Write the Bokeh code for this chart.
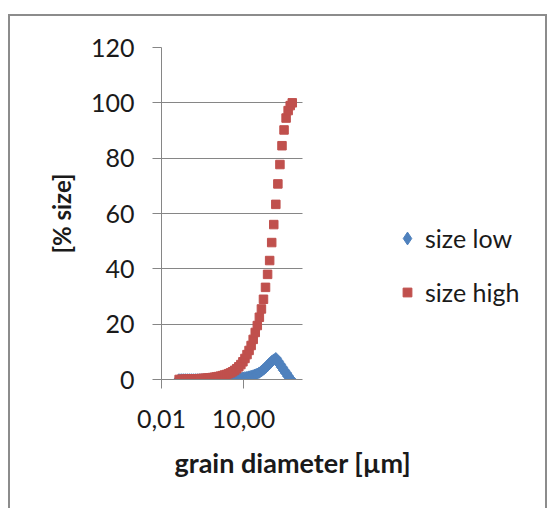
import math

from bokeh.plotting import figure
from bokeh.models import (Range1d, FixedTicker, CustomJSTickFormatter, Legend, LegendItem, Title)
from bokeh.embed import file_html
from bokeh.resources import INLINE

# Grain size classes [µm] (quarter-phi steps)
diameter_um = [
    0.0442, 0.0526, 0.0625, 0.0743, 0.0884, 0.1051, 0.125, 0.1487, 0.1768, 0.2102,
    0.25, 0.2973, 0.3536, 0.4204, 0.5, 0.5946, 0.7071, 0.8409, 1.0, 1.189,
    1.414, 1.682, 2.0, 2.378, 2.828, 3.364, 4.0, 4.757, 5.657, 6.727,
    8.0, 9.514, 11.31, 13.45, 16.0, 19.03, 22.63, 26.91, 32.0, 38.05,
    45.25, 53.82, 64.0, 76.11, 90.51, 107.6, 128.0, 152.2, 181.0, 215.3,
    256.0, 304.4, 362.0, 430.5, 512.0, 608.9,
]

# Cumulative [% size] for the "size high" sample
size_high = [
    0.02, 0.04, 0.06, 0.08, 0.10, 0.13, 0.16, 0.19, 0.22, 0.26,
    0.30, 0.35, 0.40, 0.45, 0.50, 0.60, 0.70, 0.80, 0.90, 1.05,
    1.20, 1.40, 1.60, 1.80, 2.10, 2.40, 2.80, 3.30, 3.90, 4.60,
    5.40, 6.40, 7.60, 9.00, 10.5, 12.3, 14.5, 17.0, 19.5, 22.5,
    25.5, 29.0, 33.3, 38.0, 43.0, 49.5, 56.0, 63.3, 70.7, 77.7,
    84.5, 90.2, 94.5, 97.2, 99.0, 100.0,
]

# Class frequency [% size] for the "size low" sample
size_low = [
    0.05, 0.05, 0.05, 0.05, 0.05, 0.05, 0.05, 0.05, 0.05, 0.05,
    0.05, 0.05, 0.05, 0.05, 0.05, 0.05, 0.05, 0.05, 0.10, 0.10,
    0.15, 0.15, 0.20, 0.20, 0.25, 0.30, 0.30, 0.35, 0.40, 0.50,
    0.60, 0.70, 0.80, 0.90, 1.10, 1.30, 1.50, 1.80, 2.10, 2.50,
    3.00, 3.60, 4.30, 5.00, 5.80, 6.60, 7.20, 7.70, 6.60, 5.50,
    4.40, 3.30, 2.30, 1.20, 0.20,
]

x_ticks = [0.01, 10.0]
y_ticks = [0, 20, 40, 60, 80, 100, 120]
x_axis_span = (0.01, 1450.0)      # extent of the drawn x axis and grid lines

BLUE = "#4F81BD"
RED = "#C0504D"
AXIS_GREY = "#868686"
FRAME_GREY = "#8c8c8c"
FONT = "Lato"
TEXT = "#1a1a1a"

# the frame reaches far right so the legend can sit inside it; the axis and
# grid lines are bounded to x_axis_span
p = figure(
    width=549, height=508,
    x_axis_type="log",
    x_range=Range1d(0.01, 8.0e11), y_range=Range1d(0, 120),
    output_backend="svg", toolbar_location=None,
    min_border_left=161, min_border_right=8,
    min_border_top=47, min_border_bottom=129,
)
p.outline_line_color = None
p.background_fill_color = None
p.border_fill_color = None

# chart area: white sheet with a thin grey border on left, top and right
p.styles = {
    "background": (
        f"linear-gradient({FRAME_GREY},{FRAME_GREY}) 8px 14px / 2px 494px no-repeat, "
        f"linear-gradient({FRAME_GREY},{FRAME_GREY}) 8px 14px / 539px 2px no-repeat, "
        f"linear-gradient({FRAME_GREY},{FRAME_GREY}) 545px 14px / 2px 494px no-repeat, "
        "white"
    ),
}

# axes
p.xaxis.ticker = FixedTicker(ticks=x_ticks, minor_ticks=[])
p.xaxis.formatter = CustomJSTickFormatter(code="return tick.toFixed(2).replace('.', ',');")
p.xaxis.bounds = x_axis_span
p.yaxis.ticker = FixedTicker(ticks=y_ticks, minor_ticks=[])
for ax in (p.xaxis[0], p.yaxis[0]):
    ax.axis_line_color = AXIS_GREY
    ax.major_tick_line_color = AXIS_GREY
    ax.major_tick_in = 0
    ax.major_tick_out = 9
    ax.minor_tick_line_color = None
    ax.major_label_text_font = FONT
    ax.major_label_text_font_size = "25px"
    ax.major_label_text_color = TEXT
p.yaxis.major_label_standoff = 18
p.xaxis.major_label_standoff = 21

p.yaxis.axis_label = "[% size]"
p.yaxis.axis_label_text_font = FONT
p.yaxis.axis_label_text_font_style = "bold"
p.yaxis.axis_label_text_font_size = "24px"
p.yaxis.axis_label_text_color = TEXT
p.yaxis.axis_label_standoff = 12

p.xgrid.visible = False
p.ygrid.grid_line_color = AXIS_GREY
p.ygrid.ticker = FixedTicker(ticks=y_ticks)
p.ygrid.cross_bounds = x_axis_span

# series: diamonds for "size low" (squares turned by 45°), squares for "size high"
r_low = p.scatter(diameter_um[:len(size_low)], size_low, marker="square", angle=math.pi / 4,
                  size=8, fill_color=BLUE, line_color=BLUE)
r_high = p.scatter(diameter_um, size_high, marker="square",
                   size=8.5, fill_color=RED, line_color=RED)

# hidden diamond copy of "size low", used only as its legend key
# (legend keys are drawn unrotated)
key_low = p.scatter(diameter_um[:len(size_low)], size_low, marker="diamond",
                    fill_color=BLUE, line_color=BLUE, visible=False)

# x axis title, below the tick labels
p.add_layout(Title(text="grain diameter [µm]", align="left", offset=13,
                   text_font=FONT, text_font_style="bold", text_font_size="27px",
                   text_color=TEXT, standoff=27), "below")

legend_style = dict(
    padding=0, margin=0, label_height=30, click_policy="none",
    inactive_fill_alpha=0,
    label_text_font=FONT, label_text_font_size="25px", label_text_color=TEXT,
    border_line_color=None, background_fill_alpha=0,
)
p.add_layout(Legend(items=[LegendItem(label="size low", renderers=[key_low])],
                    location=(230, 125), glyph_width=32, glyph_height=32,
                    label_standoff=2, **legend_style))
p.add_layout(Legend(items=[LegendItem(label="size high", renderers=[r_high])],
                    location=(235, 72), glyph_width=22, glyph_height=22,
                    label_standoff=7, **legend_style))

open("out.html", "w").write(file_html(p, INLINE))
